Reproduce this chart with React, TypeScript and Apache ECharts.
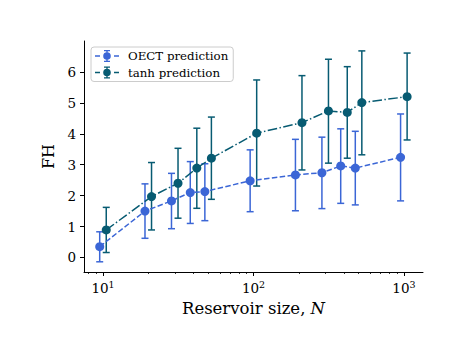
import React, { useEffect, useRef } from "react";
import * as echarts from "echarts";

// Reservoir sizes (x positions dodged slightly per series, as in the figure)
const oectN = [9.5, 19, 28.5, 38, 47.5, 95, 190, 285, 380, 475, 950];
const tanhN = [10.5, 21, 31.5, 42, 52.5, 105, 210, 315, 420, 525, 1050];

const oectMean = [0.35, 1.5, 1.83, 2.1, 2.13, 2.48, 2.67, 2.74, 2.96, 2.89, 3.24];
const oectLow = [-0.14, 0.62, 0.93, 1.1, 1.19, 1.48, 1.51, 1.58, 1.75, 1.7, 1.83];
const oectHigh = [0.83, 2.38, 2.72, 3.1, 3.03, 3.48, 3.82, 3.89, 4.16, 4.08, 4.64];

const tanhMean = [0.89, 1.97, 2.4, 2.89, 3.21, 4.02, 4.36, 4.74, 4.69, 5.01, 5.2];
const tanhLow = [0.16, 0.89, 1.27, 1.59, 1.88, 2.31, 2.83, 3.05, 3.21, 3.32, 3.8];
const tanhHigh = [1.62, 3.07, 3.53, 4.18, 4.54, 5.74, 5.88, 6.41, 6.17, 6.68, 6.61];

const xMajorTicks = [10, 100, 1000];
const xMinorTicks = [8, 9, 20, 30, 40, 50, 60, 70, 80, 90, 200, 300, 400, 500, 600, 700, 800, 900];
const yTicks = [0, 1, 2, 3, 4, 5, 6];

const OECT_COLOR = "#3b66d6";
const TANH_COLOR = "#075b72";
const FONT = "DejaVu Serif";

const legendIcon =
  "path://M0 5.3H5V6.7H0Z M19 5.3H24V6.7H19Z M11.3 0H12.7V12H11.3Z M9 0H15V1.3H9Z M9 10.7H15V12H9Z M15.8 6A3.8 3.8 0 1 1 8.2 6A3.8 3.8 0 1 1 15.8 6Z";

function errorSeries(name: string, xs: number[], lo: number[], hi: number[], color: string) {
  return {
    type: "custom",
    name,
    xAxisIndex: 0,
    yAxisIndex: 0,
    data: xs.map((x, i) => [x, lo[i], hi[i]]),
    encode: { x: 0, y: [1, 2] },
    renderItem: (params: any, api: any) => {
      const x = api.value(0);
      const pLo = api.coord([x, api.value(1)]);
      const pHi = api.coord([x, api.value(2)]);
      const cap = 3.5;
      const style = { stroke: color, lineWidth: 1.5, fill: "none" };
      return {
        type: "group",
        children: [
          { type: "line", shape: { x1: pLo[0], y1: pLo[1], x2: pHi[0], y2: pHi[1] }, style },
          { type: "line", shape: { x1: pLo[0] - cap, y1: pLo[1], x2: pLo[0] + cap, y2: pLo[1] }, style },
          { type: "line", shape: { x1: pHi[0] - cap, y1: pHi[1], x2: pHi[0] + cap, y2: pHi[1] }, style },
        ],
      };
    },
    silent: true,
    z: 2,
  };
}

function lineSeries(name: string, xs: number[], ys: number[], color: string, dash: number[]) {
  return {
    type: "line",
    name,
    xAxisIndex: 0,
    yAxisIndex: 0,
    data: xs.map((x, i) => [x, ys[i]]),
    symbol: "circle",
    symbolSize: 9,
    showSymbol: true,
    itemStyle: { color },
    lineStyle: { color, width: 1.5, type: dash },
    z: 3,
  };
}

export default function App() {
  const ref = useRef<HTMLDivElement>(null);
  useEffect(() => {
    if (!ref.current) return;
    const chart = echarts.init(ref.current, null, { renderer: "svg" });
    const axisCommon = {
      type: "log",
      logBase: 10,
      min: 7.47,
      max: 1339,
      gridIndex: 0,
      position: "bottom",
      splitLine: { show: false },
    };
    chart.setOption({
      animation: false,
      backgroundColor: "#ffffff",
      textStyle: { fontFamily: FONT },
      grid: { left: 84, top: 41, right: 46, bottom: 69, containLabel: false },
      legend: {
        orient: "vertical",
        left: 91,
        top: 47,
        padding: [3, 5, 3, 4],
        itemGap: 4.5,
        itemWidth: 24,
        itemHeight: 12,
        icon: legendIcon,
        borderColor: "#cccccc",
        borderWidth: 1,
        borderRadius: 3,
        backgroundColor: "rgba(255,255,255,0.8)",
        textStyle: { fontFamily: FONT, fontSize: 11.8, color: "#000", padding: [0, 0, 0, 4] },
        data: [
          { name: "OECT prediction", itemStyle: { color: OECT_COLOR } },
          { name: "tanh prediction", itemStyle: { color: TANH_COLOR } },
        ],
      },
      xAxis: [
        {
          ...axisCommon,
          name: "Reservoir size, {i|N}",
          nameLocation: "middle",
          nameGap: 25,
          nameTextStyle: {
            fontFamily: FONT,
            fontSize: 16.5,
            color: "#000",
            rich: { i: { fontFamily: FONT, fontStyle: "italic", fontSize: 16.5, color: "#000" } },
          },
          axisLine: { show: true, onZero: false, lineStyle: { color: "#000", width: 1 } },
          axisTick: { show: true, inside: false, length: 4, lineStyle: { color: "#000", width: 1 }, customValues: xMajorTicks },
          axisLabel: {
            show: true,
            margin: 7,
            customValues: xMajorTicks,
            fontFamily: FONT,
            fontSize: 13.5,
            color: "#000",
            formatter: (v: number) => `10{sup|${Math.round(Math.log10(v))}}`,
            rich: { sup: { fontFamily: FONT, fontSize: 9.5, color: "#000", verticalAlign: "top", padding: [0, 0, 8, 0] } },
          },
        },
        {
          ...axisCommon,
          axisLine: { show: false, onZero: false },
          axisTick: { show: true, inside: false, length: 2, lineStyle: { color: "#000", width: 0.8 }, customValues: xMinorTicks },
          axisLabel: { show: false },
        },
      ],
      yAxis: {
        type: "value",
        min: -0.47,
        max: 7.0,
        name: "FH",
        nameLocation: "middle",
        nameRotate: 90,
        nameGap: 22,
        nameTextStyle: { fontFamily: FONT, fontSize: 16, color: "#000" },
        splitLine: { show: false },
        axisLine: { show: true, onZero: false, lineStyle: { color: "#000", width: 1 } },
        axisTick: { show: true, length: 4, lineStyle: { color: "#000", width: 1 }, customValues: yTicks },
        axisLabel: { show: true, margin: 8, customValues: yTicks, fontFamily: FONT, fontSize: 13.5, color: "#000" },
      },
      series: [
        errorSeries("OECT prediction", oectN, oectLow, oectHigh, OECT_COLOR),
        lineSeries("OECT prediction", oectN, oectMean, OECT_COLOR, [5.5, 2.4]),
        errorSeries("tanh prediction", tanhN, tanhLow, tanhHigh, TANH_COLOR),
        lineSeries("tanh prediction", tanhN, tanhMean, TANH_COLOR, [9.6, 2.4, 1.5, 2.4]),
      ],
    });
    return () => chart.dispose();
  }, []);
  return <div ref={ref} style={{ position: "fixed", left: 0, top: 0, width: 469, height: 341 }} />;
}
